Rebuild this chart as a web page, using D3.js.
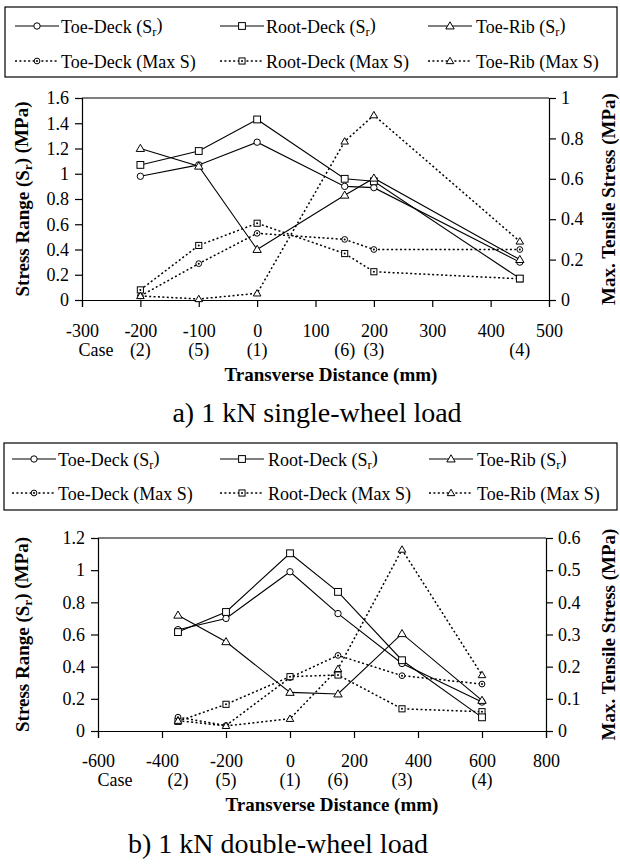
<!DOCTYPE html>
<html><head><meta charset="utf-8">
<script src="https://cdn.jsdelivr.net/npm/d3@7"></script>
<style>
body{margin:0;background:#fff}
svg{display:block}
text{font-family:"Liberation Serif","Times New Roman",serif;fill:#000}
</style>
</head><body>
<svg id="c" width="620" height="864"></svg>
<script>
// ---------- DATA ----------
const seriesNames = ["Toe-Deck", "Root-Deck", "Toe-Rib"];
const markerTypes = ["circle", "square", "triangle"];

// a) single-wheel load
const singleX = [-200, -100, 0, 150, 200, 450];
const singleCases = ["(2)", "(5)", "(1)", "(6)", "(3)", "(4)"];
const singleToeDeckSr   = [0.98, 1.07, 1.25, 0.90, 0.89, 0.30];
const singleRootDeckSr  = [1.07, 1.18, 1.43, 0.96, 0.94, 0.17];
const singleToeRibSr    = [1.20, 1.06, 0.40, 0.83, 0.965, 0.32];
const singleToeDeckMax  = [0.02, 0.18, 0.33, 0.30, 0.25, 0.25];
const singleRootDeckMax = [0.05, 0.27, 0.38, 0.23, 0.14, 0.105];
const singleToeRibMax   = [0.02, 0.005, 0.033, 0.785, 0.915, 0.29];
const singleXTicks = [-300, -200, -100, 0, 100, 200, 300, 400, 500];
const singleLeftTicks = [0, 0.2, 0.4, 0.6, 0.8, 1, 1.2, 1.4, 1.6];
const singleRightTicks = [0, 0.2, 0.4, 0.6, 0.8, 1];

// b) double-wheel load
const doubleX = [-350, -200, 0, 150, 350, 600];
const doubleCases = ["(2)", "(5)", "(1)", "(6)", "(3)", "(4)"];
const doubleToeDeckSr   = [0.63, 0.70, 0.99, 0.73, 0.42, 0.18];
const doubleRootDeckSr  = [0.615, 0.74, 1.105, 0.865, 0.44, 0.085];
const doubleToeRibSr    = [0.72, 0.555, 0.24, 0.23, 0.605, 0.19];
const doubleToeDeckMax  = [0.043, 0.017, 0.166, 0.235, 0.172, 0.146];
const doubleRootDeckMax = [0.03, 0.083, 0.169, 0.174, 0.069, 0.06];
const doubleToeRibMax   = [0.032, 0.016, 0.038, 0.193, 0.564, 0.174];
const doubleXTicks = [-600, -400, -200, 0, 200, 400, 600, 800];
const doubleLeftTicks = [0, 0.2, 0.4, 0.6, 0.8, 1, 1.2];
const doubleRightTicks = [0, 0.1, 0.2, 0.3, 0.4, 0.5, 0.6];

const xTitle = "Transverse Distance (mm)";
const rightTitle = "Max. Tensile Stress (MPa)";
const captionA = "a) 1 kN single-wheel load";
const captionB = "b) 1 kN double-wheel load";

// ---------- DRAWING ----------
const svg = d3.select("#c");
const DASH = "2,2.4";

function drawMarker(g, type, cx, cy, dotted) {
  const s = dotted ? 0.9 : 1;
  if (type === "circle") {
    g.append("circle").attr("cx", cx).attr("cy", cy).attr("r", 3.2 * s)
      .attr("fill", "#fff").attr("stroke", "#000").attr("stroke-width", 1);
  } else if (type === "square") {
    const h = 3.4 * s;
    g.append("rect").attr("x", cx - h).attr("y", cy - h).attr("width", 2 * h).attr("height", 2 * h)
      .attr("fill", "#fff").attr("stroke", "#000").attr("stroke-width", 1);
  } else {
    const h = 4.2 * s;
    g.append("path").attr("d", `M${cx},${cy - h}L${cx + h},${cy + h * 0.7}L${cx - h},${cy + h * 0.7}Z`)
      .attr("fill", "#fff").attr("stroke", "#000").attr("stroke-width", 1);
  }
  if (dotted && type !== "triangle") {
    g.append("circle").attr("cx", cx).attr("cy", cy).attr("r", 1).attr("fill", "#000");
  }
}

function addSubLabel(t, name, sub) {
  t.append("tspan").text(name + " (");
  if (sub) {
    t.append("tspan").text("S");
    t.append("tspan").text("r").attr("font-size", "0.7em").attr("dy", "0.25em");
    t.append("tspan").text(")").attr("dy", "-0.25em");
  } else {
    t.append("tspan").text("Max S)");
  }
}

function drawPanel(cfg) {
  const g = svg.append("g");
  // legend
  g.append("rect").attr("x", cfg.legend.x).attr("y", cfg.legend.y)
    .attr("width", cfg.legend.w).attr("height", cfg.legend.h)
    .attr("fill", "none").attr("stroke", "#000").attr("stroke-width", 1.2);
  cfg.legend.rows.forEach((ry, ri) => {
    seriesNames.forEach((nm, si) => {
      const col = cfg.legend.cols[si];
      const dotted = ri === 1;
      g.append("line").attr("x1", col.lx).attr("x2", col.lx + 44).attr("y1", ry).attr("y2", ry)
        .attr("stroke", "#000").attr("stroke-width", dotted ? 1.5 : 1.1)
        .attr("stroke-dasharray", dotted ? DASH : null);
      drawMarker(g, markerTypes[si], col.lx + 22, ry, dotted);
      const t = g.append("text").attr("x", col.tx).attr("y", ry + 6.5).attr("font-size", 18);
      addSubLabel(t, nm, !dotted);
    });
  });

  const p = cfg.plot;
  const x = d3.scaleLinear().domain(cfg.xDomain).range([p.x0, p.x1]);
  const yL = d3.scaleLinear().domain(cfg.yLeft).range([p.y1, p.y0]);
  const yR = d3.scaleLinear().domain(cfg.yRight).range([p.y1, p.y0]);

  // frame top line
  g.append("line").attr("x1", p.x0).attr("x2", p.x1).attr("y1", p.y0).attr("y2", p.y0)
    .attr("stroke", "#000").attr("stroke-width", 1.2);

  const axFont = g => {
    g.select(".domain").attr("stroke", "#000").attr("stroke-width", 1.2);
    g.selectAll(".tick line").attr("stroke", "#000").attr("stroke-width", 1.2);
    g.selectAll(".tick text").attr("font-family", '"Liberation Serif","Times New Roman",serif')
      .attr("font-size", 18).attr("fill", "#000");
  };
  const fmt = d => String(+d.toFixed(2));

  g.append("g").attr("transform", `translate(0,${p.y1})`)
    .call(d3.axisBottom(x).tickValues(cfg.xTicks).tickSizeOuter(0).tickSize(7).tickPadding(8).tickFormat(d => String(d)))
    .call(axFont)
    .call(a => a.selectAll(".tick text").attr("dy", null).attr("y", cfg.tickBase - p.y1));
  g.append("g").attr("transform", `translate(${p.x0},0)`)
    .call(d3.axisLeft(yL).tickValues(cfg.leftTicks).tickSizeOuter(0).tickSize(7).tickPadding(cfg.leftPad).tickFormat(fmt))
    .call(axFont);
  g.append("g").attr("transform", `translate(${p.x1},0)`)
    .call(d3.axisRight(yR).tickValues(cfg.rightTicks).tickSizeOuter(0).tickSize(7).tickPadding(cfg.rightPad).tickFormat(fmt))
    .call(axFont);

  // series
  const srLine = d3.line().x(d => x(d[0])).y(d => yL(d[1]));
  const mxLine = d3.line().x(d => x(d[0])).y(d => yR(d[1]));
  cfg.max.forEach((vals, si) => {
    g.append("path").attr("d", mxLine(cfg.xs.map((xv, i) => [xv, vals[i]])))
      .attr("fill", "none").attr("stroke", "#000").attr("stroke-width", 1.5).attr("stroke-dasharray", DASH);
  });
  cfg.sr.forEach((vals, si) => {
    g.append("path").attr("d", srLine(cfg.xs.map((xv, i) => [xv, vals[i]])))
      .attr("fill", "none").attr("stroke", "#000").attr("stroke-width", 1.1);
  });
  cfg.max.forEach((vals, si) => {
    cfg.xs.forEach((xv, i) => drawMarker(g, markerTypes[si], x(xv), yR(vals[i]), true));
  });
  cfg.sr.forEach((vals, si) => {
    cfg.xs.forEach((xv, i) => drawMarker(g, markerTypes[si], x(xv), yL(vals[i]), false));
  });

  // case labels
  g.append("text").attr("x", cfg.caseX).attr("y", cfg.caseBase).attr("text-anchor", "middle")
    .attr("font-size", 18).text("Case");
  cfg.xs.forEach((xv, i) => {
    g.append("text").attr("x", x(xv)).attr("y", cfg.caseBase).attr("text-anchor", "middle")
      .attr("font-size", 18).text(cfg.cases[i]);
  });

  // titles
  g.append("text").attr("x", cfg.xTitleX).attr("y", cfg.xTitleBase).attr("text-anchor", "middle")
    .attr("font-size", 19).attr("font-weight", "bold").text(xTitle);
  const cy = (p.y0 + p.y1) / 2;
  const lt = g.append("text").attr("transform", `translate(29,${cy}) rotate(-90)`)
    .attr("text-anchor", "middle").attr("font-size", 19).attr("font-weight", "bold");
  lt.append("tspan").text("Stress Range (S");
  lt.append("tspan").text("r").attr("font-size", "0.7em").attr("dy", "0.25em");
  lt.append("tspan").text(") (MPa)").attr("dy", "-0.25em");
  g.append("text").attr("transform", `translate(615,${cy}) rotate(-90)`)
    .attr("text-anchor", "middle").attr("font-size", 19).attr("font-weight", "bold").text(rightTitle);

  g.append("text").attr("x", cfg.capX).attr("y", cfg.capBase).attr("text-anchor", "middle")
    .attr("font-size", 28).text(cfg.caption);
}

drawPanel({
  legend: {x: 5, y: 7, w: 612, h: 70, rows: [26, 61],
    cols: [{lx: 15, tx: 61}, {lx: 220, tx: 266}, {lx: 428, tx: 476}]},
  plot: {x0: 82, x1: 549, y0: 98, y1: 300},
  xDomain: [-300, 500], yLeft: [0, 1.6], yRight: [0, 1],
  xTicks: singleXTicks, leftTicks: singleLeftTicks, rightTicks: singleRightTicks,
  leftPad: 6, rightPad: 5,
  xs: singleX, cases: singleCases,
  sr: [singleToeDeckSr, singleRootDeckSr, singleToeRibSr],
  max: [singleToeDeckMax, singleRootDeckMax, singleToeRibMax],
  tickBase: 337, caseBase: 356, caseX: 96,
  xTitleX: 331, xTitleBase: 381,
  capX: 317, capBase: 422, caption: captionA
});

drawPanel({
  legend: {x: 4, y: 443, w: 613, h: 67, rows: [459, 493],
    cols: [{lx: 12, tx: 58}, {lx: 220, tx: 268}, {lx: 429, tx: 477}]},
  plot: {x0: 98, x1: 546, y0: 538, y1: 731},
  xDomain: [-600, 800], yLeft: [0, 1.2], yRight: [0, 0.6],
  xTicks: doubleXTicks, leftTicks: doubleLeftTicks, rightTicks: doubleRightTicks,
  leftPad: 6, rightPad: 5,
  xs: doubleX, cases: doubleCases,
  sr: [doubleToeDeckSr, doubleRootDeckSr, doubleToeRibSr],
  max: [doubleToeDeckMax, doubleRootDeckMax, doubleToeRibMax],
  tickBase: 767, caseBase: 786, caseX: 115,
  xTitleX: 332, xTitleBase: 811,
  capX: 278, capBase: 853, caption: captionB
});
</script>
</body></html>
